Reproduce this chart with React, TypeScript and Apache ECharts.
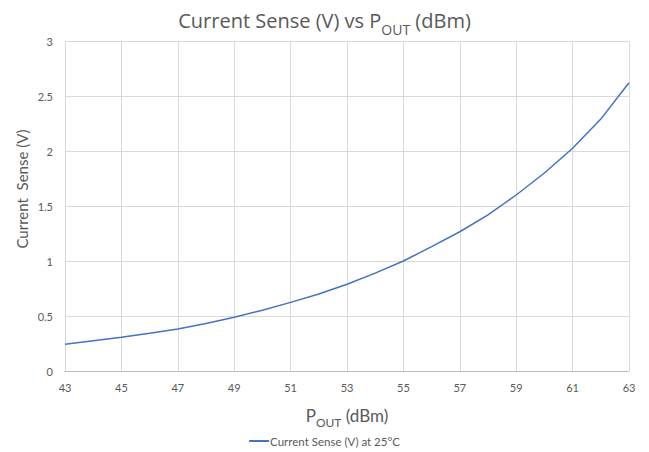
import React, { useEffect, useRef } from "react";
import * as echarts from "echarts";

const pout = [43, 44, 45, 46, 47, 48, 49, 50, 51, 52, 53, 54, 55, 56, 57, 58, 59, 60, 61, 62, 63];
const currentSense = [0.243, 0.275, 0.306, 0.343, 0.382, 0.432, 0.488, 0.553, 0.624, 0.70, 0.788, 0.89, 1.0, 1.13, 1.266, 1.42, 1.6, 1.80, 2.025, 2.29, 2.62];
const seriesName = "Current Sense (V) at 25°C";
const titleText = "Current Sense (V) vs P{sub|OUT} (dBm)";
const xTitle = "P{sub|OUT} (dBm)";
const yTitle = "Current  Sense (V)";

const FONT = "Lato, 'Open Sans', sans-serif";
const TFONT = "'Open Sans', Lato, sans-serif";
const GRAY = "#595959";

export default function App() {
  const ref = useRef<HTMLDivElement>(null);
  useEffect(() => {
    const chart = echarts.init(ref.current!, null, { renderer: "svg" });
    chart.setOption({
      animation: false,
      textStyle: { fontFamily: FONT },
      title: {
        text: titleText,
        left: "center",
        top: 0,
        textStyle: {
          fontFamily: TFONT,
          fontSize: 20,
          fontWeight: "normal",
          color: GRAY,
          rich: {
            sub: { fontSize: 14, color: GRAY, fontFamily: TFONT, padding: [17, 0, 0, 0], verticalAlign: "bottom" },
          },
        },
      },
      graphic: [
        {
          type: "text",
          x: 22,
          y: 189,
          rotation: Math.PI / 2,
          style: {
            text: yTitle,
            fontFamily: FONT,
            fontSize: 15,
            fill: GRAY,
            align: "center",
            verticalAlign: "middle",
          },
        },
      ],
      grid: { left: 65, right: 20, top: 41, bottom: 81, containLabel: false },
      legend: {
        top: 435,
        left: "center",
        data: [seriesName],
        icon: "rect",
        itemWidth: 20,
        itemHeight: 2,
        itemGap: 4,
        padding: 0,
        textStyle: { fontSize: 11.5, color: GRAY, fontFamily: FONT, padding: [0, 0, 0, -4] },
      },
      xAxis: {
        type: "value",
        min: 43,
        max: 63,
        interval: 2,
        name: xTitle,
        nameLocation: "middle",
        nameGap: 31,
        nameTextStyle: {
          fontSize: 17,
          color: GRAY,
          fontFamily: FONT,
          rich: {
            sub: { fontSize: 12, color: GRAY, fontFamily: FONT, padding: [14, 0, 0, 0], verticalAlign: "bottom" },
          },
        },
        axisLine: { show: true, lineStyle: { color: "#bfbfbf", width: 1 } },
        axisTick: { show: false },
        axisLabel: { fontSize: 11, color: GRAY, margin: 11, fontFamily: FONT },
        splitLine: { show: true, lineStyle: { color: "#d9d9d9", width: 1 } },
      },
      yAxis: {
        type: "value",
        min: 0,
        max: 3,
        interval: 0.5,
        axisLine: { show: false },
        axisTick: { show: false },
        axisLabel: { fontSize: 11, color: GRAY, margin: 12, fontFamily: FONT },
        splitLine: { show: true, lineStyle: { color: "#d9d9d9", width: 1 } },
      },
      series: [
        {
          name: seriesName,
          type: "line",
          data: pout.map((x, i) => [x, currentSense[i]]),
          showSymbol: false,
          symbol: "none",
          smooth: false,
          lineStyle: { color: "#4472C4", width: 1.5 },
          itemStyle: { color: "#4472C4" },
        },
      ],
    });
    return () => chart.dispose();
  }, []);
  return <div ref={ref} style={{ width: 649, height: 452, position: "absolute", left: 0, top: 0 }} />;
}
